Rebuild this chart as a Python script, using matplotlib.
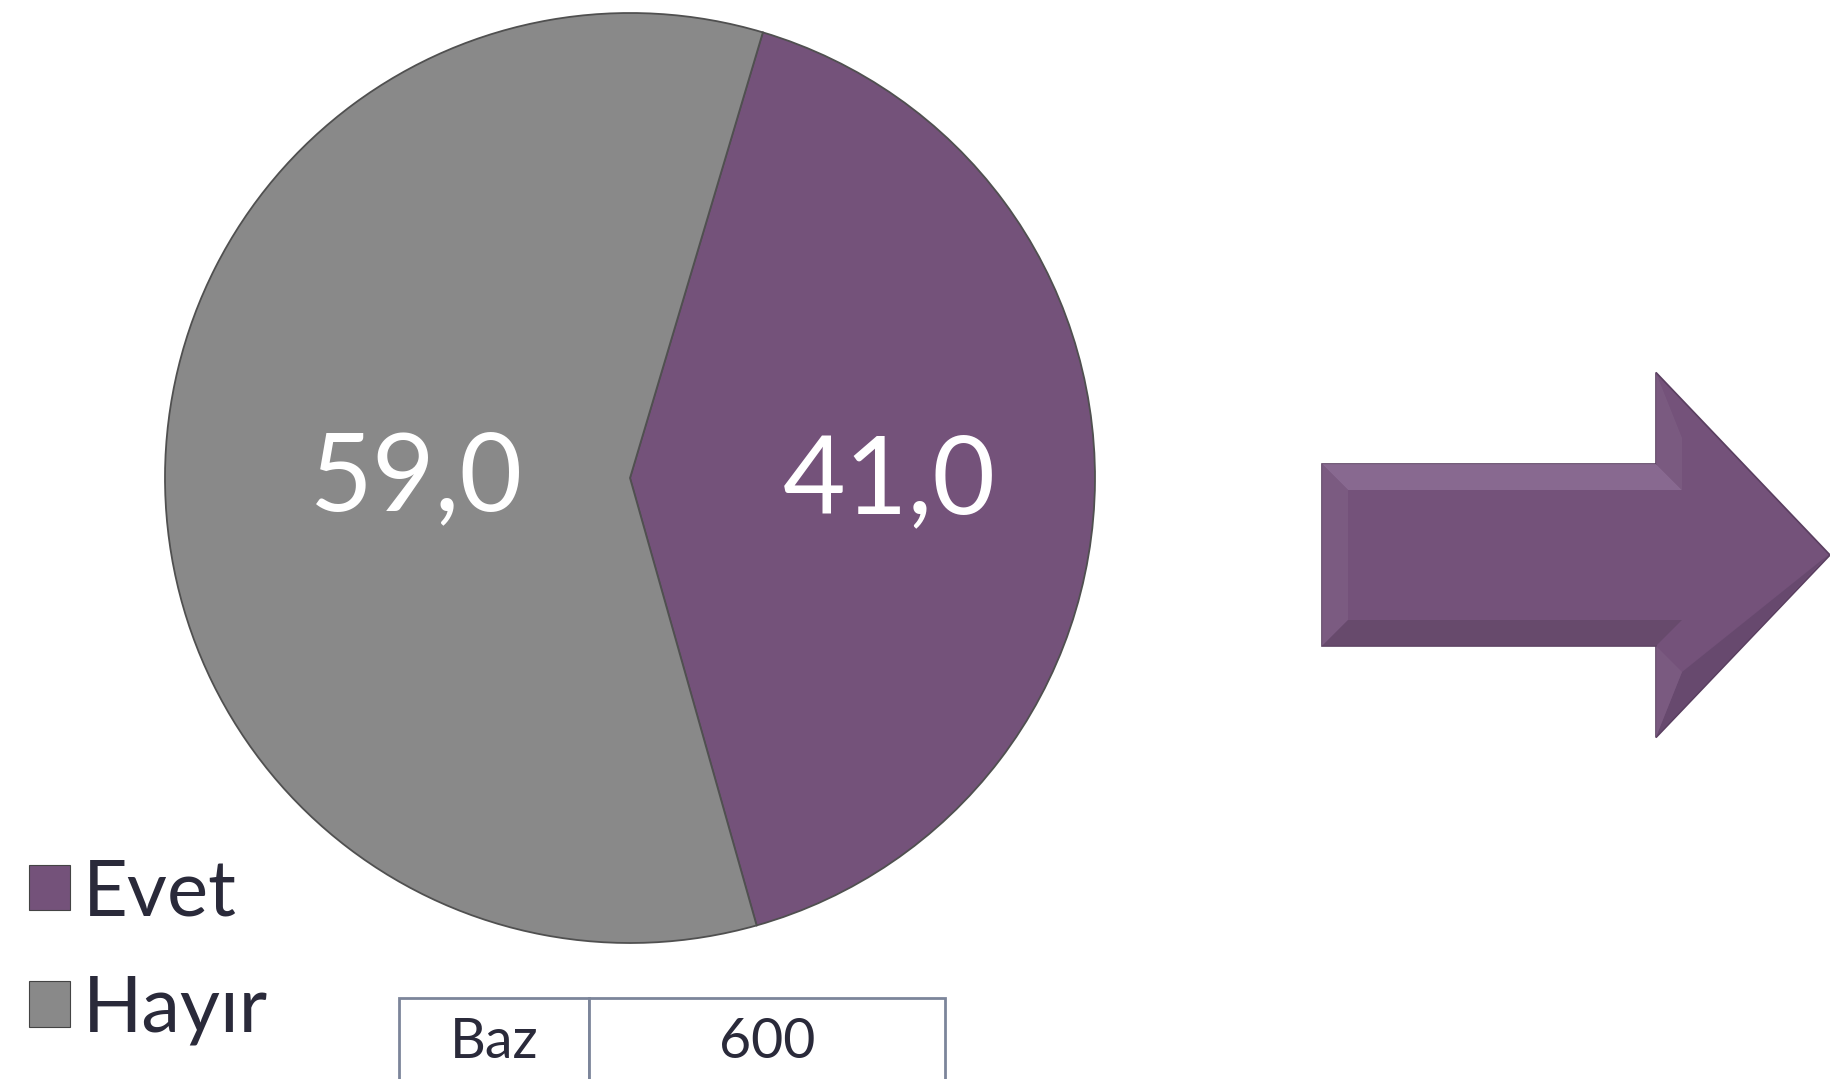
import numpy as np
import matplotlib.pyplot as plt
from matplotlib.patches import FancyArrow, Polygon

# data
labels = ['Evet', 'Hayır']
values = [41.0, 59.0]
colors = ['#74527A', '#898989']
base_label = 'Baz'
base_value = '600'

W, H = 1830, 1079
FONT = ['Lato', 'DejaVu Sans']

fig = plt.figure(figsize=(W / 100, H / 100), dpi=100)
ax = fig.add_axes([0, 0, 1, 1])

cx, cy, r = 630, H - 478, 465
wedges, texts, autotexts = ax.pie(
    values, colors=colors, startangle=73.4, counterclock=False,
    center=(cx, cy), radius=r,
    autopct=lambda p: f'{p:.1f}'.replace('.', ','),
    wedgeprops=dict(edgecolor='#505050', linewidth=1.3),
    textprops=dict(color='white', fontsize=78, family=FONT))

# move value labels a bit inward/outward like the original
label_dist = [0.557, 0.46]
for w, t, d in zip(wedges, autotexts, label_dist):
    ang = np.deg2rad((w.theta1 + w.theta2) / 2)
    t.set_position((cx + d * r * np.cos(ang), cy + d * r * np.sin(ang) - 3))
    t.set_va('center')

ax.set_xlim(0, W)
ax.set_ylim(0, H)
ax.set_aspect('equal')
ax.axis('off')

# arrow on the right
x0, hx, ay = 1322, 1656, H - 555
arr = FancyArrow(x0, ay, W - x0, 0, width=182, head_width=365,
                 head_length=174, length_includes_head=True,
                 facecolor='#74527A', edgecolor='#5A3F60', linewidth=1.2)
ax.add_patch(arr)
# bevel shading
b = 26
ax.add_patch(Polygon([(x0, ay + 91), (hx, ay + 91), (hx + b, ay + 91 - b),
                      (x0 + b, ay + 91 - b)], closed=True,
                     facecolor='#8F7198', edgecolor='none', alpha=0.75))
ax.add_patch(Polygon([(x0, ay + 91), (x0 + b, ay + 91 - b), (x0 + b, ay - 91 + b),
                      (x0, ay - 91)], closed=True,
                     facecolor='#7D5E83', edgecolor='none', alpha=0.8))
ax.add_patch(Polygon([(x0, ay - 91), (x0 + b, ay - 91 + b), (hx + b, ay - 91 + b),
                      (hx, ay - 91)], closed=True,
                     facecolor='#644869', edgecolor='none', alpha=0.8))
ax.add_patch(Polygon([(hx, ay + 182), (hx + b, ay + 182 - 2.5 * b), (hx + b, ay + 91 - b),
                      (hx, ay + 91)], closed=True,
                     facecolor='#7C5D82', edgecolor='none', alpha=0.8))
ax.add_patch(Polygon([(hx, ay - 182), (hx + b, ay - 91 - b), (W - 2, ay)], closed=True,
                     facecolor='#62466A', edgecolor='none', alpha=0.7))
ax.add_patch(Polygon([(hx, ay - 182), (hx, ay - 91), (hx + b, ay - 91 - b)], closed=True,
                     facecolor='#7C5D82', edgecolor='none', alpha=0.8))

leg = ax.legend(wedges, labels, loc='upper left',
                bbox_to_anchor=(29 / W, 1 - 858 / H), frameon=False,
                prop=dict(family=FONT, size=56),
                handlelength=0.53, handleheight=0.53, handletextpad=0.16,
                labelspacing=0.59, borderpad=0, borderaxespad=0)
for t in leg.get_texts():
    t.set_color('#2A2A3A')
for h in leg.legend_handles:
    h.set_edgecolor('#444444')
    h.set_linewidth(0.8)

tbl = ax.table(cellText=[[base_label, base_value]], cellLoc='center',
               bbox=[399 / W, (H - 1086) / H, (945 - 399) / W, 88 / H],
               colWidths=[190, 356])
tbl.auto_set_font_size(False)
for (i, j), cell in tbl.get_celld().items():
    cell.set_edgecolor('#7C859A')
    cell.set_linewidth(2)
    cell.get_text().set_fontsize(40)
    cell.get_text().set_family(FONT)
    cell.get_text().set_color('#2A2A3A')

fig.savefig('out.png', dpi=100)
